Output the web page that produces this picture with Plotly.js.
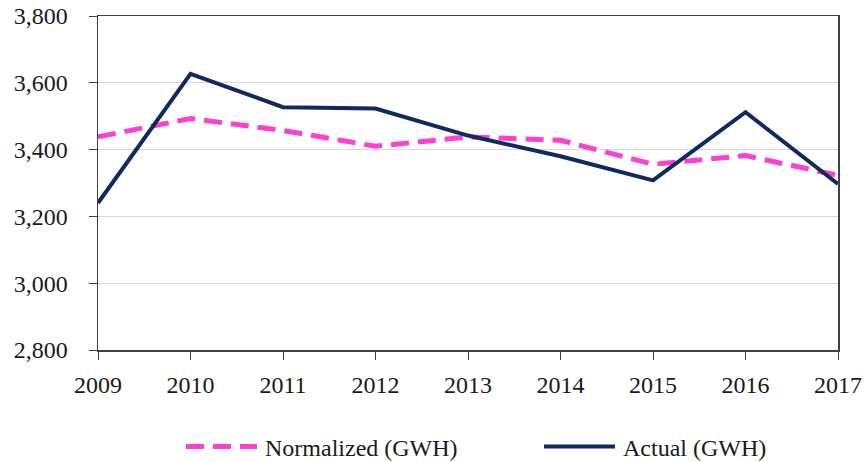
<!DOCTYPE html>
<html>
<head>
<meta charset="utf-8">
<script src="https://cdn.plot.ly/plotly-3.0.1.min.js"></script>
<style>html,body{margin:0;padding:0;background:#fff;}#chart{width:866px;height:462px;}</style>
</head>
<body>
<div id="chart"></div>
<script>
var years = [2009, 2010, 2011, 2012, 2013, 2014, 2015, 2016, 2017];
var normalized = [3438, 3493, 3457, 3410, 3438, 3428, 3356, 3382, 3323];
var actual = [3240, 3627, 3527, 3523, 3442, 3380, 3308, 3512, 3297];
var yTicks = [2800, 3000, 3200, 3400, 3600, 3800];

var traces = [
  {x: years, y: normalized, name: 'Normalized (GWH)', type: 'scatter', mode: 'lines',
   line: {color: '#FF3FCF', width: 5, dash: '18px,9px'}},
  {x: years, y: actual, name: 'Actual (GWH)', type: 'scatter', mode: 'lines',
   line: {color: '#0E2A5E', width: 4}}
];

var fam = 'Liberation Serif';
var font = {family: fam, color: '#1a1a1a', size: 24};

var layout = {
  width: 866, height: 462,
  margin: {l: 98, r: 28, t: 16, b: 112},
  paper_bgcolor: '#fff', plot_bgcolor: '#fff',
  font: font,
  showlegend: true,
  legend: {orientation: 'h', xref: 'container', yref: 'container',
           x: 225 / 866, xanchor: 'left', y: 15 / 462, yanchor: 'middle',
           font: {family: fam, size: 24, color: '#1a1a1a'}, entrywidth: 313,
           traceorder: 'normal', bgcolor: 'rgba(0,0,0,0)'},
  xaxis: {range: [2009, 2017], tickvals: years, ticktext: years.map(String),
          showgrid: false, zeroline: false, showline: true, linecolor: '#404040', linewidth: 1.5,
          mirror: true, ticks: 'outside', ticklen: 8, tickcolor: '#404040', tickfont: font,
          ticklabelstandoff: 5, automargin: false},
  yaxis: {range: [2800, 3800], tickvals: yTicks, tickformat: ',d',
          showgrid: true, gridcolor: '#D9D9D9', gridwidth: 1, zeroline: false,
          showline: true, linecolor: '#404040', linewidth: 1.5, mirror: true,
          ticks: 'outside', ticklen: 8, tickcolor: '#404040', tickfont: font,
          ticklabelstandoff: 16, automargin: false}
};

Plotly.newPlot('chart', traces, layout, {staticPlot: true, displayModeBar: false}).then(function (gd) {
  // lengthen the legend line samples to match the reference
  gd.querySelectorAll('.legend [clip-path]').forEach(function (el) { el.removeAttribute('clip-path'); });
  gd.querySelectorAll('.legend .legendlines path').forEach(function (p) { p.setAttribute('d', 'M-39,0h71'); });
});
</script>
</body>
</html>
